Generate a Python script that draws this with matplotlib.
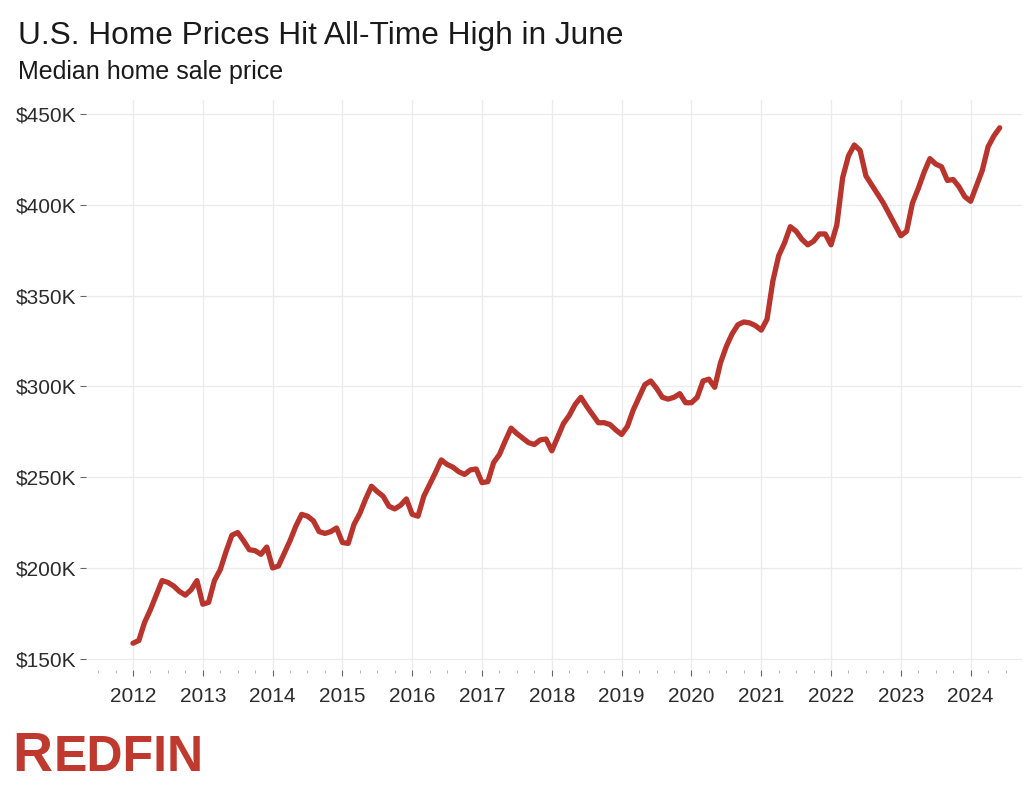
import matplotlib
matplotlib.use('Agg')
import matplotlib.pyplot as plt
from matplotlib.ticker import FuncFormatter, MultipleLocator

plt.rcParams['font.family'] = ['Liberation Sans', 'DejaVu Sans']

# median home sale price, thousands of dollars, monthly Jan 2012 - Jun 2024
years = list(range(2012, 2025))
price_by_year = {
    2012: [158.5, 160, 170, 177, 185, 193, 192, 190, 187, 185, 188, 193],
    2013: [180, 181, 193, 199, 209, 218, 219.5, 215, 210, 209.5, 207.5, 211.5],
    2014: [200, 201, 208, 215, 223, 229.5, 228.5, 226, 220, 219, 220, 222],
    2015: [214, 213.5, 224, 230, 238, 245, 242, 239.5, 234, 232.5, 234.5, 238],
    2016: [229.5, 228.5, 239.5, 246, 252.5, 259.5, 257, 255.5, 253, 251.5, 254, 254.5],
    2017: [247, 247.5, 258, 262.5, 270, 277, 274, 271.5, 269, 268, 270.5, 271],
    2018: [264.5, 272, 279.5, 284, 290, 294, 289, 284.5, 280, 280, 279, 276],
    2019: [273.5, 278, 287, 294, 301, 303, 299, 294, 293, 294, 296, 291],
    2020: [291, 294, 303, 304, 299.5, 313, 322, 329, 334, 335.5, 335, 333.5],
    2021: [331, 337, 358, 372, 379, 388, 385.5, 381, 378, 380, 384, 384],
    2022: [378, 389, 415, 427, 433, 430, 416, 411, 406, 401, 395, 389],
    2023: [383, 385.5, 401, 409, 418, 425.5, 422.5, 421, 413.5, 414, 410, 404.5],
    2024: [402, 410.5, 419, 432, 438, 442.5],
}
y_ticks = [150, 200, 250, 300, 350, 400, 450]

dates = []
prices = []
for yr in years:
    for i, v in enumerate(price_by_year[yr]):
        dates.append(yr + i / 12)
        prices.append(v)

W, H = 1024, 788
fig = plt.figure(figsize=(W / 100, H / 100), dpi=100)
ax = fig.add_axes([86 / W, 1 - 670 / H, (1022 - 86) / W, (670 - 100) / H])

ax.plot(dates, prices, color='#B8342C', linewidth=3.8, solid_capstyle='round',
        solid_joinstyle='round', zorder=3)

ax.set_xlim(2011.327, 2024.736)
ax.set_ylim(143.75, 457.8)
ax.set_xticks(years)
ax.xaxis.set_minor_locator(MultipleLocator(0.25))
ax.set_yticks(y_ticks)
ax.yaxis.set_major_formatter(FuncFormatter(lambda v, p: f'${v:.0f}K'))

for s in ax.spines.values():
    s.set_visible(False)
ax.grid(True, which='major', color='#ebebeb', linewidth=1.0, zorder=0)
ax.tick_params(axis='both', which='major', length=4, width=0.8, color='#666666',
               labelsize=15, labelcolor='#2b2b2b', pad=3)
ax.tick_params(axis='x', which='minor', length=2, width=0.6, color='#aaaaaa')
ax.tick_params(axis='x', which='major', pad=8)

fig.text(18 / W, 1 - 44 / H, 'U.S. Home Prices Hit All-Time High in June',
         fontsize=22.8, color='#1a1a1a', va='baseline', ha='left')
fig.text(18 / W, 1 - 79 / H, 'Median home sale price',
         fontsize=18, color='#1a1a1a', va='baseline', ha='left')

fig.text(12 / W, 1 - 771 / H, 'R', fontsize=40, fontweight='bold', color='#C0392F',
         va='baseline', ha='left')
fig.text(54 / W, 1 - 771 / H, 'EDFIN', fontsize=36, fontweight='bold', color='#C0392F',
         va='baseline', ha='left')

fig.savefig('out.png', dpi=100, facecolor='white')
